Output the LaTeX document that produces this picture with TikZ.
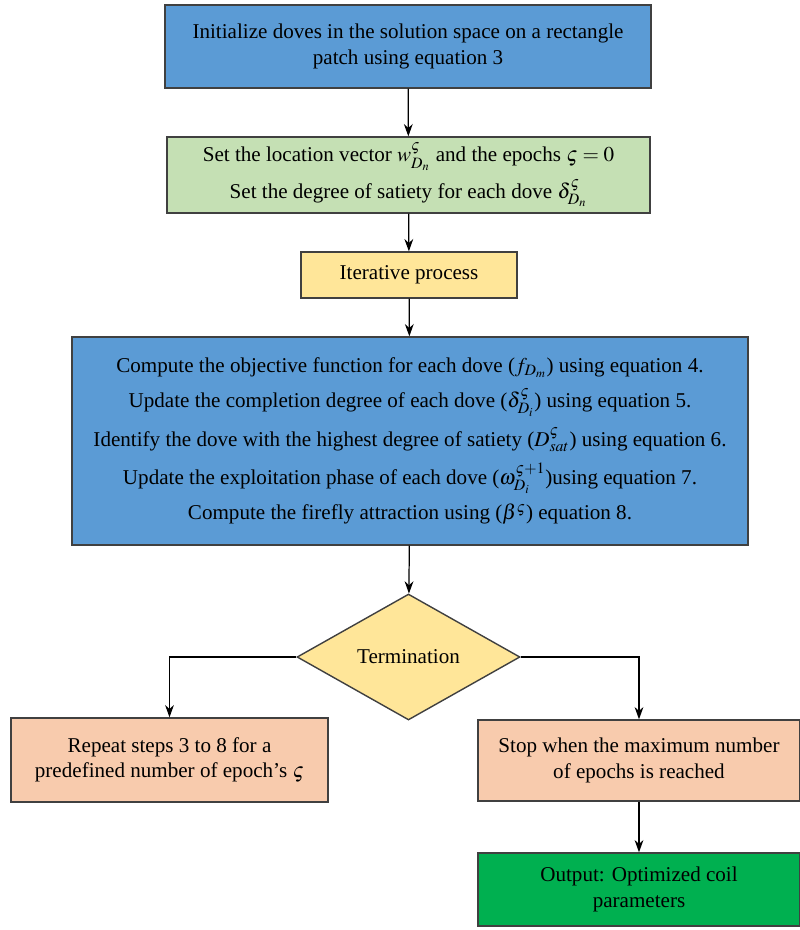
\documentclass[tikz,border=0pt]{standalone}
\usepackage{mathptmx}
\usepackage{fontspec}
\setmainfont{Liberation Serif}
\usetikzlibrary{shapes.geometric,arrows.meta}
\definecolor{stepblue}{HTML}{5B9BD5}
\definecolor{stepgreen}{HTML}{C5E0B4}
\definecolor{stepyellow}{HTML}{FFE699}
\definecolor{steppeach}{HTML}{F8CBAD}
\definecolor{outgreen}{HTML}{00B050}
\begin{document}
\begin{tikzpicture}[>={Stealth[length=7pt,width=5pt]}, x=0.02cm, y=-0.02cm,
	flowbox/.style={draw=black!75, line width=0.8pt, align=center, inner sep=0pt,
		font=\fontsize{12}{14.5}\selectfont},
	decision/.style={flowbox, shape=diamond},
	link/.style={->, line width=0.7pt}]
	
	\useasboundingbox (0,0) rectangle (799,930);
	
	% 1. Khoi tao
	\node[flowbox, fill=stepblue, minimum width=9.72cm, minimum height=1.66cm] (init) at (408,46.5)
		{Initialize doves in the solution space on a rectangle\\ patch using equation 3};
	\node[flowbox, fill=stepgreen, minimum width=9.66cm, minimum height=1.52cm] (setvec) at (408.5,175)
		{Set the location vector $w^{\varsigma}_{D_n}$ and the epochs $\varsigma = 0$\\[4pt]
		 Set the degree of satiety for each dove $\delta^{\varsigma}_{D_n}$};
	\node[flowbox, fill=stepyellow, minimum width=4.32cm, minimum height=0.92cm] (iter) at (409,275)
		{Iterative process};
	
	% 2. Vong lap chinh
	\node[flowbox, fill=stepblue, minimum width=13.52cm, minimum height=4.16cm] (update) at (410,441)
		{Compute the objective function for each dove ($f_{D_m}$) using equation 4.\\[5.5pt]
		 Update the completion degree of each dove ($\delta^{\varsigma}_{D_i}$) using equation 5.\\[5.5pt]
		 Identify the dove with the highest degree of satiety ($D^{\varsigma}_{sat}$) using equation 6.\\[5.5pt]
		 Update the exploitation phase of each dove ($\omega^{\varsigma+1}_{D_i}$)using equation 7.\\[5.5pt]
		 Compute the firefly attraction using ($\beta^{\varsigma}$) equation 8.};
	
	% 3. Dieu kien dung
	\node[decision, fill=stepyellow, minimum width=4.46cm, minimum height=2.52cm] (term) at (408.5,657)
		{Termination};
	\node[flowbox, fill=steppeach, minimum width=6.34cm, minimum height=1.68cm] (repeat) at (169.5,760)
		{Repeat steps 3 to 8 for a\\ predefined number of epoch's $\varsigma$};
	\node[flowbox, fill=steppeach, minimum width=6.44cm, minimum height=1.62cm] (stop) at (639,760.5)
		{Stop when the maximum number\\ of epochs is reached};
	\node[flowbox, fill=outgreen, minimum width=6.44cm, minimum height=1.46cm] (output) at (639,889.5)
		{Output: Optimized coil\\ parameters};
	
	% 4. Mui ten
	\draw[link] (init) -- (setvec);
	\draw[link] (setvec) -- (iter);
	\draw[link] (iter) -- (update);
	\draw[link] (update) -- (term);
	\draw[link] (term.west) -| (repeat.north);
	\draw[link] (term.east) -| (stop.north);
	\draw[link] (stop) -- (output);
	
\end{tikzpicture}
\end{document}
